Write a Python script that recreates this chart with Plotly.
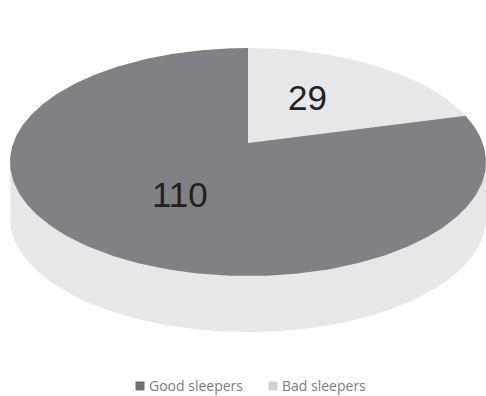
import numpy as np
import plotly.graph_objects as go

categories = ["Good sleepers", "Bad sleepers"]
values = [110, 29]
colors = ["#808184", "#e6e7e8"]
legend_colors = ["#6d6e71", "#d1d2d4"]
side_color = "#e6e7e8"

W, H = 486, 396
cx, cy, rx, ry = 248.0, 162.0, 238.0, 114.0
depth = 56.0
tanh_a = -0.167  # perspective shift of the pie centre
a = np.arctanh(tanh_a)
ch, sh = np.cosh(a), np.sinh(a)


def proj(theta, r=1.0):
    xc = r * np.sin(theta)
    yc = -r * np.cos(theta)
    d = sh * yc + ch
    X = xc / d
    Y = (ch * yc + sh) / d
    return cx + rx * X, cy + ry * Y


fig = go.Figure()

# side band
t = np.linspace(0, np.pi, 200)
bx = cx - rx * np.cos(t)
by = cy + depth + ry * np.sin(t)
sx = [cx - rx] + list(bx) + [cx + rx, cx - rx]
sy = [cy] + list(by) + [cy, cy]
fig.add_trace(go.Scatter(x=sx, y=sy, fill="toself", fillcolor=side_color,
                         mode="lines", line=dict(width=0), showlegend=False,
                         hoverinfo="skip"))

# slices: Bad sleepers starts at 12 o'clock clockwise, then Good sleepers
total = sum(values)
order = [1, 0]
start = 0.0
label_pos = {1: (307, 97), 0: (180, 194)}
for i in order:
    frac = values[i] / total
    end = start + frac * 2 * np.pi
    th = np.linspace(start, end, 300)
    px, py = proj(th)
    ox, oy = proj(np.array([0.0]), 0.0)
    xs = [ox[0]] + list(px) + [ox[0]]
    ys = [oy[0]] + list(py) + [oy[0]]
    fig.add_trace(go.Scatter(x=xs, y=ys, fill="toself", fillcolor=colors[i],
                             mode="lines", line=dict(width=0, color=colors[i]),
                             name=categories[i], hoverinfo="skip",
                             showlegend=False))
    start = end

# labels
for i in order:
    lx, ly = label_pos[i]
    fig.add_annotation(x=lx, y=ly, text=str(values[i]), showarrow=False,
                       font=dict(family="Liberation Sans, Arial", size=35, color="#231f20"),
                       xanchor="center", yanchor="middle")

# legend (manual)
leg = [(140, 386, 0), (273, 386, 1)]
for lx, ly, i in leg:
    fig.add_shape(type="rect", x0=lx - 4.5, x1=lx + 4.5, y0=ly - 4.5, y1=ly + 4.5,
                  fillcolor=legend_colors[i], line=dict(width=0))
    fig.add_annotation(x=lx + 7, y=ly - 1, text=categories[i], showarrow=False,
                       xanchor="left", yanchor="middle",
                       font=dict(family="Open Sans", size=14, color="#7a7a7c"))

fig.update_xaxes(range=[0, W], visible=False, fixedrange=True)
fig.update_yaxes(range=[H, 0], visible=False, fixedrange=True)
fig.update_layout(width=W, height=H, margin=dict(l=0, r=0, t=0, b=0),
                  paper_bgcolor="white", plot_bgcolor="white", showlegend=False)
fig.write_html("out.html")
